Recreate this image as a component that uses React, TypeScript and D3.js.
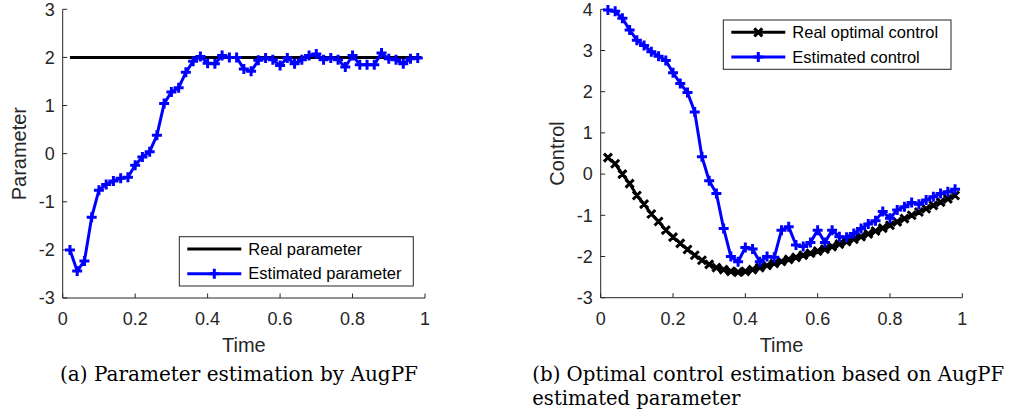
import React from 'react';
import * as d3 from 'd3';

const time = [0.02, 0.04, 0.06, 0.08, 0.10, 0.12, 0.14, 0.16, 0.18, 0.20,
  0.22, 0.24, 0.26, 0.28, 0.30, 0.32, 0.34, 0.36, 0.38, 0.40,
  0.42, 0.44, 0.46, 0.48, 0.50, 0.52, 0.54, 0.56, 0.58, 0.60,
  0.62, 0.64, 0.66, 0.68, 0.70, 0.72, 0.74, 0.76, 0.78, 0.80,
  0.82, 0.84, 0.86, 0.88, 0.90, 0.92, 0.94, 0.96, 0.98];

const realParamTime = [0.02, 0.99];
const realParamValue = [2, 2];

const estimatedParameter = [-2.0, -2.44, -2.23, -1.32, -0.76, -0.64, -0.57, -0.51, -0.49, -0.24,
  -0.07, 0.04, 0.38, 1.04, 1.28, 1.37, 1.69, 1.92, 2.02, 1.88,
  1.87, 2.04, 2.0, 2.0, 1.76, 1.71, 1.94, 1.99, 1.95, 1.83,
  1.99, 1.87, 1.95, 2.04, 2.07, 1.95, 1.99, 1.95, 1.80, 2.04,
  1.85, 1.85, 1.85, 2.09, 1.97, 1.95, 1.87, 1.97, 1.99];

const realOptimalControl = [0.40, 0.25, 0.0, -0.23, -0.52, -0.73, -0.97, -1.15, -1.36, -1.53,
  -1.68, -1.83, -1.97, -2.09, -2.19, -2.27, -2.32, -2.36, -2.38, -2.36,
  -2.32, -2.27, -2.22, -2.17, -2.12, -2.07, -2.02, -1.97, -1.92, -1.87,
  -1.82, -1.76, -1.70, -1.64, -1.58, -1.52, -1.45, -1.38, -1.31, -1.24,
  -1.16, -1.08, -1.00, -0.92, -0.84, -0.76, -0.68, -0.60, -0.52];

const estimatedControl = [3.98, 3.95, 3.78, 3.5, 3.25, 3.12, 2.97, 2.86, 2.76, 2.46,
  2.2, 1.98, 1.51, 0.42, -0.16, -0.47, -1.32, -2.0, -2.13, -1.78,
  -1.82, -2.13, -2.0, -2.02, -1.36, -1.28, -1.72, -1.76, -1.66, -1.36,
  -1.66, -1.36, -1.52, -1.53, -1.44, -1.32, -1.21, -1.13, -0.91, -1.07,
  -0.87, -0.79, -0.69, -0.73, -0.63, -0.55, -0.47, -0.43, -0.37];

const xTicks = [0, 0.2, 0.4, 0.6, 0.8, 1];
const xTickLabels = ['0', '0.2', '0.4', '0.6', '0.8', '1'];
const leftYTicks = [-3, -2, -1, 0, 1, 2, 3];
const rightYTicks = [-3, -2, -1, 0, 1, 2, 3, 4];

const SANS = '"Liberation Sans", Arial, Helvetica, sans-serif';
const SERIF = '"DejaVu Serif", "Liberation Serif", serif';
const AXIS = '#262626';

type Series = {
  xs: number[];
  ys: number[];
  color: string;
  marker: 'none' | 'plus' | 'x';
  label: string;
};

function markerPath(kind: string, x: number, y: number): string {
  if (kind === 'plus') {
    const s = 5;
    return `M${x - s},${y}H${x + s}M${x},${y - s}V${y + s}`;
  }
  if (kind === 'x') {
    const s = 4;
    return `M${x - s},${y - s}L${x + s},${y + s}M${x - s},${y + s}L${x + s},${y - s}`;
  }
  return '';
}

type Caption = { text: string; width: number; baseline: number };

type PanelProps = {
  left: number; right: number; top: number; bottom: number;
  yDomain: [number, number];
  yTicks: number[];
  yLabel: string;
  series: Series[];
  legend: { x0: number; x1: number; y0: number; y1: number };
  caption: Caption[];
  captionX: number;
};

function Panel(p: PanelProps) {
  const x = d3.scaleLinear().domain([0, 1]).range([p.left, p.right]);
  const y = d3.scaleLinear().domain(p.yDomain).range([p.bottom, p.top]);
  const line = d3.line<[number, number]>().x(d => x(d[0])).y(d => y(d[1]));
  const tickLen = 4.5;
  const lg = p.legend;
  const rowH = (lg.y1 - lg.y0) / (p.series.length);
  return (
    <g>
      <line x1={p.left} x2={p.right} y1={p.bottom} y2={p.bottom} stroke={AXIS} strokeWidth={1} />
      <line x1={p.left} x2={p.left} y1={p.top} y2={p.bottom} stroke={AXIS} strokeWidth={1} />
      {xTicks.map((t, i) => (
        <g key={'xt' + i}>
          <line x1={x(t)} x2={x(t)} y1={p.bottom} y2={p.bottom - tickLen} stroke={AXIS} strokeWidth={1} />
          <text x={x(t)} y={p.bottom + 27} textAnchor="middle" fontFamily={SANS} fontSize={18} fill={AXIS}>{xTickLabels[i]}</text>
        </g>
      ))}
      {p.yTicks.map((t, i) => (
        <g key={'yt' + i}>
          <line x1={p.left} x2={p.left + tickLen} y1={y(t)} y2={y(t)} stroke={AXIS} strokeWidth={1} />
          <text x={p.left - 8} y={y(t)} dy="0.35em" textAnchor="end" fontFamily={SANS} fontSize={18} fill={AXIS}>{String(t)}</text>
        </g>
      ))}
      <text x={(p.left + p.right) / 2} y={p.bottom + 54} textAnchor="middle" fontFamily={SANS} fontSize={20} fill={AXIS}>Time</text>
      <text transform={`translate(${p.left - 37},${(p.top + p.bottom) / 2}) rotate(-90)`} textAnchor="middle" fontFamily={SANS} fontSize={20} fill={AXIS}>{p.yLabel}</text>

      {p.series.map((s, si) => {
        const pts: [number, number][] = s.xs.map((xv, i) => [xv, s.ys[i]]);
        return (
          <g key={'s' + si}>
            <path d={line(pts) || ''} fill="none" stroke={s.color} strokeWidth={3} strokeLinejoin="round" />
            {s.marker !== 'none' && (
              <path d={pts.map(d => markerPath(s.marker, x(d[0]), y(d[1]))).join('')} fill="none" stroke={s.color} strokeWidth={3} />
            )}
          </g>
        );
      })}

      <rect x={lg.x0} y={lg.y0} width={lg.x1 - lg.x0} height={lg.y1 - lg.y0} fill="white" stroke={AXIS} strokeWidth={1} />
      {p.series.map((s, si) => {
        const cy = lg.y0 + rowH * (si + 0.5);
        const lx0 = lg.x0 + 8;
        const lx1 = lx0 + 54;
        return (
          <g key={'lg' + si}>
            <line x1={lx0} x2={lx1} y1={cy} y2={cy} stroke={s.color} strokeWidth={3} />
            {s.marker !== 'none' && (
              <path d={markerPath(s.marker, (lx0 + lx1) / 2, cy)} fill="none" stroke={s.color} strokeWidth={3} />
            )}
            <text x={lx1 + 7} y={cy} dy="0.35em" fontFamily={SANS} fontSize={16.5} fill="#000">{s.label}</text>
          </g>
        );
      })}

      {p.caption.map((c, i) => (
        <text key={'c' + i} x={p.captionX} y={c.baseline} fontFamily={SERIF} fontSize={19.5}
          textLength={c.width} lengthAdjust="spacingAndGlyphs" fill="#000">{c.text}</text>
      ))}
    </g>
  );
}

export default function App() {
  return (
    <svg width={1018} height={419} style={{ position: 'absolute', left: 0, top: 0, background: 'white' }}>
      <rect x={0} y={0} width={1018} height={419} fill="white" />
      <Panel
        left={62.7} right={425} top={9.3} bottom={298}
        yDomain={[-3, 3]} yTicks={leftYTicks} yLabel="Parameter"
        series={[
          { xs: realParamTime, ys: realParamValue, color: '#000000', marker: 'none', label: 'Real parameter' },
          { xs: time, ys: estimatedParameter, color: '#0000ff', marker: 'plus', label: 'Estimated parameter' },
        ]}
        legend={{ x0: 179.3, x1: 413.3, y0: 236.7, y1: 286 }}
        caption={[{ text: '(a) Parameter estimation by AugPF', width: 358, baseline: 381 }]}
        captionX={60}
      />
      <Panel
        left={600.7} right={962.3} top={9.3} bottom={297.7}
        yDomain={[-3, 4]} yTicks={rightYTicks} yLabel="Control"
        series={[
          { xs: time, ys: realOptimalControl, color: '#000000', marker: 'x', label: 'Real optimal control' },
          { xs: time, ys: estimatedControl, color: '#0000ff', marker: 'plus', label: 'Estimated control' },
        ]}
        legend={{ x0: 723.3, x1: 951, y0: 20, y1: 69.3 }}
        caption={[
          { text: '(b) Optimal control estimation based on AugPF', width: 472, baseline: 381 },
          { text: 'estimated parameter', width: 208, baseline: 405 },
        ]}
        captionX={532.3}
      />
    </svg>
  );
}
